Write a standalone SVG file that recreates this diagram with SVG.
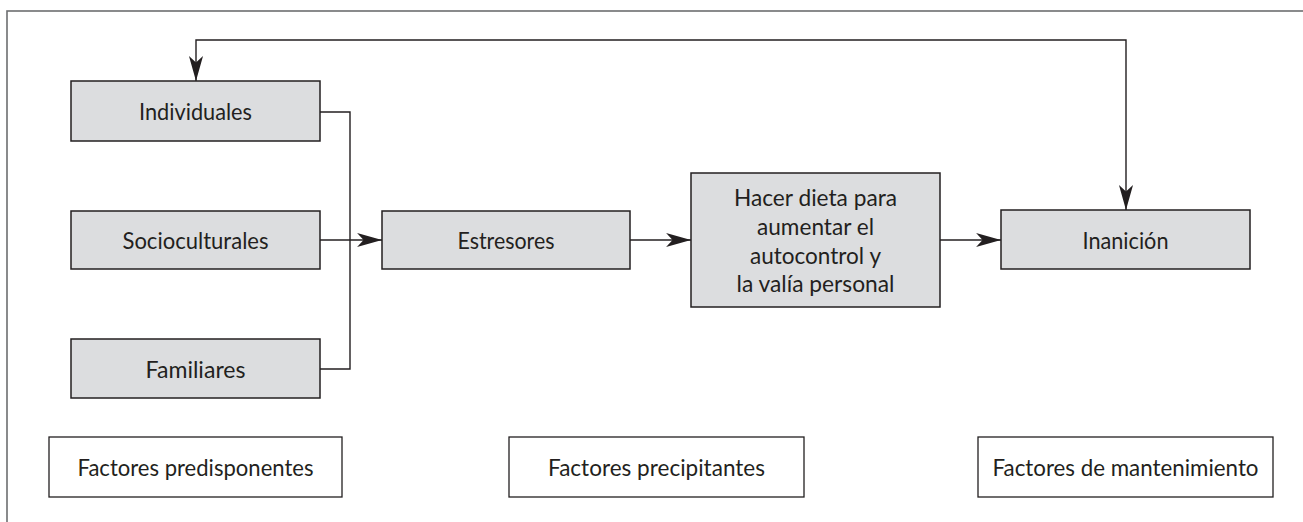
<svg xmlns="http://www.w3.org/2000/svg" width="1303" height="522" viewBox="0 0 1303 522">
<style>
.box{fill:#dcdddf;stroke:#231f20;stroke-width:1.5}
.lbl{fill:#fff;stroke:#231f20;stroke-width:1.3}
.t{font-family:Lato,"Open Sans","Liberation Sans",sans-serif;font-size:23.5px;fill:#231f20;text-anchor:middle}
.c{fill:none;stroke:#231f20;stroke-width:1.4}
</style>
<defs>
<marker id="arr" markerUnits="userSpaceOnUse" markerWidth="26" markerHeight="16" viewBox="0 -7 24 14" refX="23" refY="0" orient="auto-start-reverse">
<path d="M0,-6.5 L23,0 L0,6.5 L6,0 Z" fill="#231f20"/>
</marker>
</defs>
<rect x="7" y="11" width="1310" height="530" fill="#fff" stroke="#6d6e70" stroke-width="1.6"/>
<g id="connectors">
<path class="c" d="M320,112 H350 V369 H320"/>
<path class="c" d="M320,240 H382" marker-end="url(#arr)"/>
<path class="c" d="M630,240 H691" marker-end="url(#arr)"/>
<path class="c" d="M940,240 H1001" marker-end="url(#arr)"/>
<path class="c" d="M196,81 V40 H1126 V210" marker-start="url(#arr)" marker-end="url(#arr)"/>
</g>
<g id="individuales"><rect class="box" x="71" y="81" width="249" height="60"/><text class="t" x="195.5" y="120" textLength="113" lengthAdjust="spacingAndGlyphs">Individuales</text></g>
<g id="socioculturales"><rect class="box" x="71" y="211" width="249" height="58"/><text class="t" x="195.5" y="249" textLength="146" lengthAdjust="spacingAndGlyphs">Socioculturales</text></g>
<g id="familiares"><rect class="box" x="71" y="339" width="249" height="59"/><text class="t" x="195.5" y="378" textLength="100" lengthAdjust="spacingAndGlyphs">Familiares</text></g>
<g id="estresores"><rect class="box" x="382" y="211" width="248" height="58"/><text class="t" x="506" y="249" textLength="97" lengthAdjust="spacingAndGlyphs">Estresores</text></g>
<g id="dieta"><rect class="box" x="691" y="173" width="249" height="134"/>
<text class="t" x="815.5" y="206" textLength="163" lengthAdjust="spacingAndGlyphs">Hacer dieta para</text>
<text class="t" x="815.5" y="235" textLength="117" lengthAdjust="spacingAndGlyphs">aumentar el</text>
<text class="t" x="815.5" y="263.5" textLength="131" lengthAdjust="spacingAndGlyphs">autocontrol y</text>
<text class="t" x="815.5" y="292" textLength="158" lengthAdjust="spacingAndGlyphs">la valía personal</text></g>
<g id="inanicion"><rect class="box" x="1001" y="210" width="249" height="59"/><text class="t" x="1125.5" y="249" textLength="86" lengthAdjust="spacingAndGlyphs">Inanición</text></g>
<g id="predisponentes"><rect class="lbl" x="49" y="437" width="293" height="60"/><text class="t" x="195.5" y="476" textLength="236" lengthAdjust="spacingAndGlyphs">Factores predisponentes</text></g>
<g id="precipitantes"><rect class="lbl" x="509" y="437" width="295" height="60"/><text class="t" x="656.5" y="476" textLength="217" lengthAdjust="spacingAndGlyphs">Factores precipitantes</text></g>
<g id="mantenimiento"><rect class="lbl" x="978" y="437" width="295" height="60"/><text class="t" x="1125.5" y="476" textLength="266" lengthAdjust="spacingAndGlyphs">Factores de mantenimiento</text></g>
</svg>
